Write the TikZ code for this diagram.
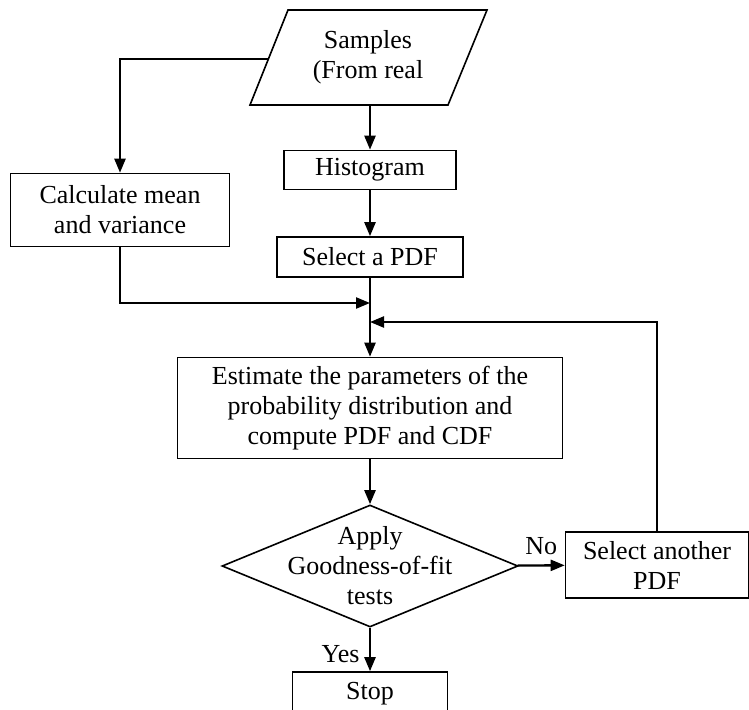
\documentclass[tikz,border=0pt]{standalone}
\usepackage{fontspec}
\setmainfont{Liberation Serif}
\usetikzlibrary{arrows.meta,shapes.geometric}

\begin{document}
\begin{tikzpicture}[x=1pt,y=-1pt,
    every node/.style={font=\fontsize{26}{30}\selectfont},
    procbox/.style={draw, line width=1.6pt, align=center, inner sep=0pt},
    decision/.style={draw, diamond, line width=1.6pt, inner sep=0pt, minimum width=296pt, minimum height=122pt},
    flow/.style={line width=2.3pt, -{Triangle[length=14pt,width=11pt]}}]
    \useasboundingbox (0,0) rectangle (749,709);
    \draw[line width=1.6pt] (250,105) -- (448,105) -- (487,10) -- (288,10) -- cycle;
    \node[align=center] (samples) at (368,57) {Samples\\(From real};
    \coordinate (samplesleft) at (268,59);
    \coordinate (samplesbottom) at (370,105);
    \node[procbox, minimum width=172pt, minimum height=39pt] (hist) at (370,170) {Histogram};
    \node[procbox, minimum width=186pt, minimum height=40pt] (sel) at (370,257) {Select a PDF};
    \node[procbox, minimum width=219pt, minimum height=73pt] (calc) at (120,210) {Calculate mean\\and variance};
    \node[procbox, minimum width=385pt, minimum height=101pt] (est) at (370,408) {Estimate the parameters of the\\probability distribution and\\compute PDF and CDF};
    \node[decision] (fit) at (370,566) {};
    \node[align=center] (fittext) at (fit) {Apply\\Goodness-of-fit\\tests};
    \node[procbox, minimum width=183pt, minimum height=66pt] (another) at (657,565) {Select another\\PDF};
    \node[procbox, minimum width=155pt, minimum height=44pt] (stop) at (370,694) {Stop};
    \coordinate (joinleft) at (370,303);
    \coordinate (joinright) at (370,322);
    \draw[flow] (samplesbottom) -- (hist);
    \draw[flow] (samplesleft) -| (calc);
    \draw[flow] (hist) -- (sel);
    \draw[flow] (sel) -- (est);
    \draw[flow] (calc) |- (joinleft);
    \draw[flow] (another) |- (joinright);
    \draw[flow] (est) -- (fit);
    \draw[flow] (fit) -- node[above, xshift=0pt, yshift=6pt] {No} (another);
    \draw[flow] (fit) -- node[left, xshift=-6pt, yshift=-5pt] {Yes} (stop);
\end{tikzpicture}
\end{document}
